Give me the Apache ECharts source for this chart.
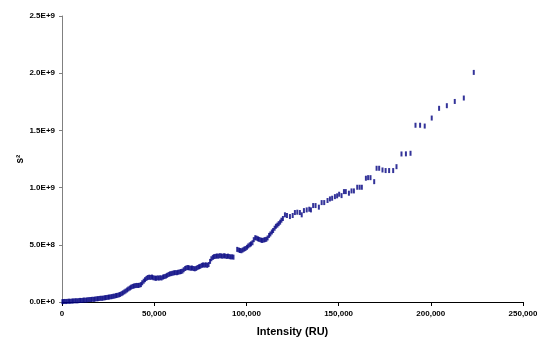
<!DOCTYPE html>
<html>
<head>
<meta charset="utf-8">
<script src="https://cdn.jsdelivr.net/npm/echarts@6/dist/echarts.min.js"></script>
<style>html,body{margin:0;padding:0;background:#fff;}#c{width:537px;height:337px;}</style>
</head>
<body>
<div id="c"></div>
<script>
// Intensity (RU), in thousands
var intensityK = [
0.2,0.8,1.5,2.3,3.0,3.8,4.5,5.3,6.0,6.8,7.5,8.3,9.0,9.8,10.5,11.3,12.0,12.8,13.5,14.3,
15.0,15.8,16.5,17.3,18.0,18.8,19.5,20.3,21.0,21.8,22.5,23.3,24.0,24.8,25.5,26.3,27.0,27.8,28.5,29.3,
30.0,30.8,31.5,32.3,33.0,33.8,34.5,35.3,36.0,36.8,37.5,38.3,39.0,39.8,40.5,41.3,42.0,42.8,43.5,44.3,
45.0,45.8,46.5,47.3,48.0,48.8,49.5,50.3,51.0,51.8,52.5,53.3,54.0,54.8,55.5,56.3,57.0,57.8,58.5,59.3,
60.0,60.8,61.5,62.3,63.0,63.8,64.5,65.3,66.0,66.8,67.5,68.3,69.0,69.8,70.5,71.3,72.0,72.8,73.5,74.3,
75.0,75.8,76.5,77.3,78.0,78.8,79.5,80.3,81.0,81.8,82.5,83.3,84.0,84.8,85.5,86.3,87.0,87.8,88.5,89.3,
90.0,90.8,91.5,92.3,93.0,95.0,95.8,96.5,97.3,98.0,98.8,99.5,100.3,101.0,101.8,102.5,103.3,104.0,104.8,105.5,
106.3,107.0,107.8,108.5,109.3,110.0,110.8,111.5,112.3,113.0,113.8,114.5,115.3,116.0,116.8,117.5,118.3,119.0,119.8,
120.9,122.0,123.6,125.1,126.3,127.6,129.0,130.0,131.2,132.7,134.1,135.0,136.2,137.5,139.3,140.8,142.2,144.0,145.3,146.5,
148.0,149.2,150.3,151.6,152.9,153.9,155.6,157.0,158.3,160.1,161.4,162.6,164.8,166.0,167.3,169.3,170.6,172.0,173.8,175.5,
177.4,179.6,181.4,184.1,186.5,189.0,191.7,194.2,196.7,200.5,204.5,208.7,213.0,217.9,223.3
];
// s^2, in units of 1e8
var s2E8 = [
0.03,0.04,0.05,0.04,0.06,0.07,0.06,0.08,0.09,0.10,0.11,0.10,0.12,0.14,0.13,0.15,0.17,0.16,0.18,0.20,
0.21,0.22,0.24,0.23,0.26,0.28,0.29,0.31,0.33,0.32,0.35,0.37,0.39,0.41,0.43,0.45,0.47,0.50,0.52,0.56,
0.58,0.62,0.66,0.73,0.80,0.88,0.96,1.05,1.14,1.22,1.30,1.36,1.40,1.43,1.45,1.44,1.47,1.52,1.68,1.82,
1.95,2.06,2.14,2.17,2.15,2.18,2.12,2.09,2.07,2.11,2.09,2.12,2.10,2.18,2.22,2.26,2.33,2.40,2.46,2.48,
2.52,2.55,2.57,2.56,2.60,2.63,2.66,2.70,2.82,2.93,2.99,3.01,2.98,2.95,2.97,2.93,2.90,2.94,3.02,3.08,
3.12,3.20,3.24,3.22,3.25,3.20,3.28,3.55,3.78,3.90,3.97,3.99,4.02,4.00,4.05,4.03,4.00,4.04,4.02,3.98,
4.01,3.97,3.94,3.95,3.92,4.60,4.55,4.50,4.48,4.55,4.62,4.68,4.78,4.90,5.00,5.08,5.18,5.45,5.62,5.58,
5.52,5.47,5.42,5.38,5.41,5.45,5.48,5.60,5.82,5.95,6.12,6.25,6.45,6.62,6.72,6.85,6.98,7.15,7.30,
7.62,7.56,7.47,7.56,7.82,7.85,7.82,7.62,7.99,8.05,8.11,8.05,8.43,8.43,8.29,8.69,8.69,8.87,9.01,9.07,
9.21,9.28,9.42,9.30,9.65,9.65,9.51,9.71,9.71,10.03,10.03,10.03,10.82,10.87,10.87,10.52,11.69,11.69,11.54,11.49,
11.49,11.49,11.83,12.94,12.95,13.00,15.45,15.45,15.38,16.08,16.93,17.16,17.53,17.83,20.07
];
var xTicks = [0, 50000, 100000, 150000, 200000, 250000];
var yTicks = [0, 5e8, 1e9, 1.5e9, 2e9, 2.5e9];

var pts = [];
for (var i = 0; i < intensityK.length; i++) pts.push([intensityK[i] * 1000, s2E8[i] * 1e8]);

function sci(v) {
  if (v === 0) return '0.0E+0';
  var e = Math.floor(Math.log10(v) + 1e-9);
  var m = v / Math.pow(10, e);
  return m.toFixed(1) + 'E+' + e;
}
function comma(v) { return String(v).replace(/\B(?=(\d{3})+(?!\d))/g, ','); }

var chart = echarts.init(document.getElementById('c'), null, {renderer: 'canvas'});
chart.setOption({
  animation: false,
  backgroundColor: '#fff',
  grid: {left: 62, right: 14, top: 16, bottom: 35, containLabel: false, outerBoundsMode: 'none'},
  xAxis: {
    type: 'value', min: xTicks[0], max: xTicks[xTicks.length - 1], interval: 50000,
    name: 'Intensity (RU)', nameLocation: 'middle', nameGap: 24, nameMoveOverlap: false,
    nameTextStyle: {fontFamily: 'Liberation Sans', fontWeight: 'bold', fontSize: 11, color: '#000'},
    axisLine: {show: true, onZero: false, lineStyle: {color: '#000', width: 1}},
    axisTick: {show: true, inside: false, length: 4, lineStyle: {color: '#000'}},
    axisLabel: {margin: 8, fontFamily: 'Liberation Sans', fontWeight: 'bold', fontSize: 8, color: '#000', formatter: comma},
    splitLine: {show: false}
  },
  yAxis: {
    type: 'value', min: yTicks[0], max: yTicks[yTicks.length - 1], interval: 5e8,
    name: 's\u00B2', nameLocation: 'middle', nameGap: 37, nameRotate: 90, nameMoveOverlap: false,
    nameTextStyle: {fontFamily: 'Liberation Sans', fontWeight: 'bold', fontSize: 10, color: '#000'},
    axisLine: {show: true, lineStyle: {color: '#808080', width: 1}},
    axisTick: {show: true, inside: false, length: 3, lineStyle: {color: '#808080'}},
    axisLabel: {margin: 7, fontFamily: 'Liberation Sans', fontWeight: 'bold', fontSize: 8, color: '#000', formatter: sci},
    splitLine: {show: false}
  },
  series: [{
    type: 'scatter',
    data: pts,
    symbol: 'rect',
    symbolSize: [2, 5],
    itemStyle: {color: '#000080'},
    silent: true
  }]
});
</script>
</body>
</html>
